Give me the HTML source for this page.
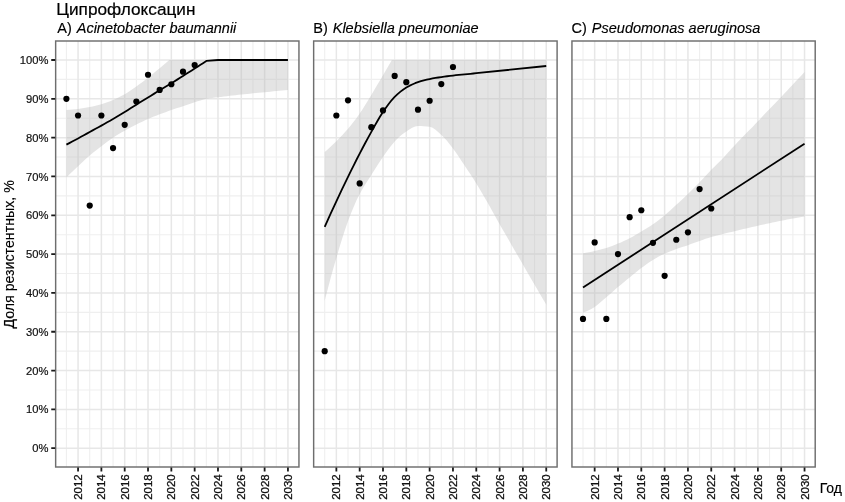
<!DOCTYPE html>
<html lang="ru">
<head>
<meta charset="utf-8">
<title>Ципрофлоксацин</title>
<style>
html,body{margin:0;padding:0;background:#fff;}
body{width:845px;height:502px;overflow:hidden;}
svg{display:block;}
text{font-family:"Liberation Sans",Arial,Helvetica,sans-serif;}
.t{font-size:17.2px;fill:#000;stroke:#000;stroke-width:0.2px;}
.s{font-size:14.5px;fill:#000;stroke:#000;stroke-width:0.15px;}
.l{font-size:14.2px;fill:#000;stroke:#000;stroke-width:0.15px;}
.a{font-size:11.2px;fill:#111111;stroke:#111111;stroke-width:0.2px;}
.x{font-size:11.45px;stroke-width:0.3px;}
.i{font-style:italic;}
.gM{stroke:#e7e7e7;stroke-width:1.5;fill:none;}
.gm{stroke:#efefef;stroke-width:1.1;fill:none;}
.rb{fill:#bbbbbb;fill-opacity:0.4;stroke:none;}
.ln{fill:none;stroke:#000;stroke-width:1.8;stroke-linejoin:round;stroke-linecap:butt;}
.pt{fill:#000;}
.bd{fill:none;stroke:#6e6e6e;stroke-width:1.45;}
.tk{stroke:#1a1a1a;stroke-width:1.8;fill:none;}
</style>
</head>
<body>
<svg width="845" height="502" viewBox="0 0 845 502">
<rect x="0" y="0" width="845" height="502" fill="#ffffff"/>
<text class="t" x="56.3" y="14.8">Ципрофлоксацин</text>
<g>
<text class="s" x="57.3" y="32.6">A)&#160;<tspan class="i" dx="0.9">Acinetobacter baumannii</tspan></text>
<clipPath id="c0"><rect x="55.65" y="41" width="243.3" height="426"/></clipPath>
<g clip-path="url(#c0)">
<path class="gm" d="M55.65 428.79H298.95M55.65 389.97H298.95M55.65 351.15H298.95M55.65 312.33H298.95M55.65 273.51H298.95M55.65 234.69H298.95M55.65 195.87H298.95M55.65 157.05H298.95M55.65 118.23H298.95M55.65 79.41H298.95M66.4 41V467M89.72 41V467M113.04 41V467M136.36 41V467M159.68 41V467M183 41V467M206.32 41V467M229.64 41V467M252.96 41V467M276.28 41V467"/>
<path class="gM" d="M55.65 448.2H298.95M55.65 409.38H298.95M55.65 370.56H298.95M55.65 331.74H298.95M55.65 292.92H298.95M55.65 254.1H298.95M55.65 215.28H298.95M55.65 176.46H298.95M55.65 137.64H298.95M55.65 98.82H298.95M55.65 60H298.95M78.06 41V467M101.38 41V467M124.7 41V467M148.02 41V467M171.34 41V467M194.66 41V467M217.98 41V467M241.3 41V467M264.62 41V467M287.94 41V467"/>
<polygon class="rb" points="66.4,110.08 69.32,109.85 72.23,109.58 75.15,109.26 78.06,108.91 80.98,108.51 83.89,108.04 86.81,107.53 89.72,106.97 92.64,106.38 95.55,105.75 98.47,105.04 101.38,104.25 104.3,103.35 107.21,102.32 110.12,101.19 113.04,99.98 115.96,98.69 118.87,97.29 121.78,95.78 124.7,94.16 127.62,92.39 130.53,90.46 133.44,88.44 136.36,86.4 139.28,84.35 142.19,82.25 145.11,80.09 148.02,77.86 150.94,75.52 153.85,73.09 156.76,70.62 159.68,68.15 162.6,65.71 165.51,63.25 168.43,60.79 169.36,60 287.94,60 287.94,89.89 285.02,90.18 282.11,90.47 279.2,90.76 276.28,91.06 273.37,91.35 270.45,91.64 267.53,91.93 264.62,92.22 261.71,92.51 258.79,92.79 255.88,93.08 252.96,93.36 250.05,93.65 247.13,93.94 244.22,94.24 241.3,94.55 238.39,94.87 235.47,95.19 232.56,95.52 229.64,95.86 226.72,96.2 223.81,96.55 220.9,96.91 217.98,97.27 215.06,97.61 212.15,97.96 209.24,98.34 206.32,98.82 203.41,99.5 200.49,100.38 197.58,101.35 194.66,102.31 191.75,103.26 188.83,104.23 185.92,105.22 183,106.2 180.09,107.16 177.17,108.11 174.25,109.08 171.34,110.08 168.43,111.11 165.51,112.16 162.6,113.24 159.68,114.35 156.76,115.47 153.85,116.61 150.94,117.78 148.02,119.01 145.11,120.29 142.19,121.63 139.28,123.01 136.36,124.44 133.44,125.92 130.53,127.45 127.62,129.03 124.7,130.65 121.78,132.31 118.87,134.01 115.96,135.78 113.04,137.64 110.12,139.64 107.21,141.76 104.3,143.95 101.38,146.18 98.47,148.42 95.55,150.7 92.64,153.05 89.72,155.5 86.81,158.1 83.89,160.83 80.98,163.61 78.06,166.37 75.15,169.08 72.23,171.8 69.32,174.52 66.4,177.24"/>
<polyline class="ln" points="66.4,144.63 69.32,143.09 72.23,141.55 75.15,139.99 78.06,138.42 80.98,136.83 83.89,135.23 86.81,133.62 89.72,132.01 92.64,130.41 95.55,128.82 98.47,127.22 101.38,125.61 104.3,123.98 107.21,122.34 110.12,120.69 113.04,119.01 115.96,117.3 118.87,115.56 121.78,113.8 124.7,112.02 127.62,110.2 130.53,108.34 133.44,106.48 136.36,104.64 139.28,102.83 142.19,101.04 145.11,99.25 148.02,97.46 150.94,95.66 153.85,93.86 156.76,92.06 159.68,90.28 162.6,88.53 165.51,86.8 168.43,85.06 171.34,83.29 174.25,81.48 177.17,79.63 180.09,77.77 183,75.92 185.92,74.08 188.83,72.24 191.75,70.4 194.66,68.54 197.58,66.67 200.49,64.78 203.41,62.88 206.32,60.97 217.98,60 287.94,60"/>
<circle class="pt" cx="66.4" cy="98.82" r="3.1"/>
<circle class="pt" cx="78.06" cy="115.51" r="3.1"/>
<circle class="pt" cx="89.72" cy="205.57" r="3.1"/>
<circle class="pt" cx="101.38" cy="115.51" r="3.1"/>
<circle class="pt" cx="113.04" cy="148.12" r="3.1"/>
<circle class="pt" cx="124.7" cy="124.83" r="3.1"/>
<circle class="pt" cx="136.36" cy="101.54" r="3.1"/>
<circle class="pt" cx="148.02" cy="74.75" r="3.1"/>
<circle class="pt" cx="159.68" cy="89.89" r="3.1"/>
<circle class="pt" cx="171.34" cy="84.26" r="3.1"/>
<circle class="pt" cx="183" cy="71.65" r="3.1"/>
<circle class="pt" cx="194.66" cy="65.05" r="3.1"/>
</g>
<rect class="bd" x="55.65" y="41" width="243.3" height="426"/>
<path class="tk" d="M78.06 467.5v3.9M101.38 467.5v3.9M124.7 467.5v3.9M148.02 467.5v3.9M171.34 467.5v3.9M194.66 467.5v3.9M217.98 467.5v3.9M241.3 467.5v3.9M264.62 467.5v3.9M287.94 467.5v3.9"/>
<text class="a x" text-anchor="end" transform="translate(82.11 474.3) rotate(-90)">2012</text>
<text class="a x" text-anchor="end" transform="translate(105.43 474.3) rotate(-90)">2014</text>
<text class="a x" text-anchor="end" transform="translate(128.75 474.3) rotate(-90)">2016</text>
<text class="a x" text-anchor="end" transform="translate(152.07 474.3) rotate(-90)">2018</text>
<text class="a x" text-anchor="end" transform="translate(175.39 474.3) rotate(-90)">2020</text>
<text class="a x" text-anchor="end" transform="translate(198.71 474.3) rotate(-90)">2022</text>
<text class="a x" text-anchor="end" transform="translate(222.03 474.3) rotate(-90)">2024</text>
<text class="a x" text-anchor="end" transform="translate(245.35 474.3) rotate(-90)">2026</text>
<text class="a x" text-anchor="end" transform="translate(268.67 474.3) rotate(-90)">2028</text>
<text class="a x" text-anchor="end" transform="translate(291.99 474.3) rotate(-90)">2030</text>
<path class="tk" d="M55.15 448.2h-3.9M55.15 409.38h-3.9M55.15 370.56h-3.9M55.15 331.74h-3.9M55.15 292.92h-3.9M55.15 254.1h-3.9M55.15 215.28h-3.9M55.15 176.46h-3.9M55.15 137.64h-3.9M55.15 98.82h-3.9M55.15 60h-3.9"/>
<text class="a" text-anchor="end" x="48.4" y="452.3">0%</text>
<text class="a" text-anchor="end" x="48.4" y="413.48">10%</text>
<text class="a" text-anchor="end" x="48.4" y="374.66">20%</text>
<text class="a" text-anchor="end" x="48.4" y="335.84">30%</text>
<text class="a" text-anchor="end" x="48.4" y="297.02">40%</text>
<text class="a" text-anchor="end" x="48.4" y="258.2">50%</text>
<text class="a" text-anchor="end" x="48.4" y="219.38">60%</text>
<text class="a" text-anchor="end" x="48.4" y="180.56">70%</text>
<text class="a" text-anchor="end" x="48.4" y="141.74">80%</text>
<text class="a" text-anchor="end" x="48.4" y="102.92">90%</text>
<text class="a" text-anchor="end" x="48.4" y="64.1">100%</text>
</g>
<g>
<text class="s" x="313.3" y="32.6">B)&#160;<tspan class="i" dx="0.9">Klebsiella pneumoniae</tspan></text>
<clipPath id="c1"><rect x="313.65" y="41" width="243.45" height="426"/></clipPath>
<g clip-path="url(#c1)">
<path class="gm" d="M313.65 428.79H557.1M313.65 389.97H557.1M313.65 351.15H557.1M313.65 312.33H557.1M313.65 273.51H557.1M313.65 234.69H557.1M313.65 195.87H557.1M313.65 157.05H557.1M313.65 118.23H557.1M313.65 79.41H557.1M324.7 41V467M348.02 41V467M371.34 41V467M394.66 41V467M417.98 41V467M441.3 41V467M464.62 41V467M487.94 41V467M511.26 41V467M534.58 41V467"/>
<path class="gM" d="M313.65 448.2H557.1M313.65 409.38H557.1M313.65 370.56H557.1M313.65 331.74H557.1M313.65 292.92H557.1M313.65 254.1H557.1M313.65 215.28H557.1M313.65 176.46H557.1M313.65 137.64H557.1M313.65 98.82H557.1M313.65 60H557.1M336.36 41V467M359.68 41V467M383 41V467M406.32 41V467M429.64 41V467M452.96 41V467M476.28 41V467M499.6 41V467M522.92 41V467M546.24 41V467"/>
<polygon class="rb" points="324.7,152 327.62,149.43 330.53,146.76 333.44,143.99 336.36,141.13 339.27,138.2 342.19,135.18 345.11,132.03 348.02,128.71 350.94,125.21 353.85,121.52 356.76,117.65 359.68,113.57 362.59,109.21 365.51,104.57 368.43,99.77 371.34,94.94 374.25,90.08 377.17,85.12 380.08,80.13 383,75.14 385.91,70.17 388.83,65.19 391.75,60.2 391.86,60 546.24,60 546.24,304.57 543.33,299.65 540.41,294.72 537.5,289.75 534.58,284.77 531.66,279.75 528.75,274.7 525.84,269.64 522.92,264.58 520,259.53 517.09,254.49 514.17,249.44 511.26,244.39 508.35,239.37 505.43,234.35 502.51,229.31 499.6,224.21 496.69,219 493.77,213.7 490.86,208.42 487.94,203.25 485.02,198.17 482.11,193.15 479.19,188.23 476.28,183.45 473.37,178.84 470.45,174.35 467.53,169.96 464.62,165.59 461.7,161.18 458.79,156.76 455.88,152.49 452.96,148.51 450.04,144.74 447.13,141.1 444.21,137.77 441.3,134.92 438.38,132.28 435.47,129.75 432.56,127.77 429.64,126.77 426.73,126.45 423.81,126.2 420.89,126.05 417.98,125.99 415.06,126.51 412.15,127.83 409.24,129.59 406.32,131.43 403.4,133.43 400.49,135.83 397.57,138.56 394.66,141.52 391.75,144.89 388.83,148.74 385.91,152.86 383,157.05 380.08,161.31 377.17,165.75 374.25,170.31 371.34,174.91 368.43,179.42 365.51,183.92 362.59,188.67 359.68,193.93 356.76,199.86 353.85,206.4 350.94,213.51 348.02,221.1 345.11,229.41 342.19,238.51 339.27,248.12 336.36,257.98 333.44,268.08 330.53,278.58 327.62,289.45 324.7,300.68"/>
<polyline class="ln" points="324.7,226.93 327.62,220.41 330.53,213.97 333.44,207.6 336.36,201.3 339.27,195.08 342.19,188.93 345.11,182.85 348.02,176.85 350.94,170.91 353.85,165.03 356.76,159.24 359.68,153.56 362.59,147.97 365.51,142.47 368.43,137.07 371.34,131.82 374.25,126.61 377.17,121.47 380.08,116.55 383,112.02 385.91,107.78 388.83,103.75 391.75,100.06 394.66,96.88 397.57,94.12 400.49,91.64 403.4,89.44 406.32,87.56 409.24,85.93 412.15,84.48 415.06,83.21 417.98,82.13 420.89,81.2 423.81,80.38 426.73,79.66 429.64,79.02 432.56,78.46 435.47,77.97 438.38,77.51 441.3,77.08 444.21,76.66 447.13,76.26 450.04,75.88 452.96,75.53 455.88,75.21 458.79,74.92 461.7,74.65 464.62,74.36 467.53,74.07 470.45,73.78 473.37,73.49 476.28,73.2 546.24,66.02"/>
<circle class="pt" cx="324.7" cy="351.15" r="3.1"/>
<circle class="pt" cx="336.36" cy="115.51" r="3.1"/>
<circle class="pt" cx="348.02" cy="100.37" r="3.1"/>
<circle class="pt" cx="359.68" cy="183.45" r="3.1"/>
<circle class="pt" cx="371.34" cy="127.16" r="3.1"/>
<circle class="pt" cx="383" cy="110.47" r="3.1"/>
<circle class="pt" cx="394.66" cy="75.92" r="3.1"/>
<circle class="pt" cx="406.32" cy="82.13" r="3.1"/>
<circle class="pt" cx="417.98" cy="109.69" r="3.1"/>
<circle class="pt" cx="429.64" cy="100.76" r="3.1"/>
<circle class="pt" cx="441.3" cy="84.07" r="3.1"/>
<circle class="pt" cx="452.96" cy="66.99" r="3.1"/>
</g>
<rect class="bd" x="313.65" y="41" width="243.45" height="426"/>
<path class="tk" d="M336.36 467.5v3.9M359.68 467.5v3.9M383 467.5v3.9M406.32 467.5v3.9M429.64 467.5v3.9M452.96 467.5v3.9M476.28 467.5v3.9M499.6 467.5v3.9M522.92 467.5v3.9M546.24 467.5v3.9"/>
<text class="a x" text-anchor="end" transform="translate(340.41 474.3) rotate(-90)">2012</text>
<text class="a x" text-anchor="end" transform="translate(363.73 474.3) rotate(-90)">2014</text>
<text class="a x" text-anchor="end" transform="translate(387.05 474.3) rotate(-90)">2016</text>
<text class="a x" text-anchor="end" transform="translate(410.37 474.3) rotate(-90)">2018</text>
<text class="a x" text-anchor="end" transform="translate(433.69 474.3) rotate(-90)">2020</text>
<text class="a x" text-anchor="end" transform="translate(457.01 474.3) rotate(-90)">2022</text>
<text class="a x" text-anchor="end" transform="translate(480.33 474.3) rotate(-90)">2024</text>
<text class="a x" text-anchor="end" transform="translate(503.65 474.3) rotate(-90)">2026</text>
<text class="a x" text-anchor="end" transform="translate(526.97 474.3) rotate(-90)">2028</text>
<text class="a x" text-anchor="end" transform="translate(550.29 474.3) rotate(-90)">2030</text>
</g>
<g>
<text class="s" x="571.6" y="32.6">C)&#160;<tspan class="i" dx="0.9">Pseudomonas aeruginosa</tspan></text>
<clipPath id="c2"><rect x="571.95" y="41" width="243.25" height="426"/></clipPath>
<g clip-path="url(#c2)">
<path class="gm" d="M571.95 428.79H815.2M571.95 389.97H815.2M571.95 351.15H815.2M571.95 312.33H815.2M571.95 273.51H815.2M571.95 234.69H815.2M571.95 195.87H815.2M571.95 157.05H815.2M571.95 118.23H815.2M571.95 79.41H815.2M583 41V467M606.32 41V467M629.64 41V467M652.96 41V467M676.28 41V467M699.6 41V467M722.92 41V467M746.24 41V467M769.56 41V467M792.88 41V467"/>
<path class="gM" d="M571.95 448.2H815.2M571.95 409.38H815.2M571.95 370.56H815.2M571.95 331.74H815.2M571.95 292.92H815.2M571.95 254.1H815.2M571.95 215.28H815.2M571.95 176.46H815.2M571.95 137.64H815.2M571.95 98.82H815.2M571.95 60H815.2M594.66 41V467M617.98 41V467M641.3 41V467M664.62 41V467M687.94 41V467M711.26 41V467M734.58 41V467M757.9 41V467M781.22 41V467M804.54 41V467"/>
<polygon class="rb" points="583,253.32 585.91,252.81 588.83,252.25 591.75,251.64 594.66,250.99 597.58,250.3 600.49,249.56 603.4,248.75 606.32,247.89 609.24,246.94 612.15,245.9 615.07,244.79 617.98,243.62 620.89,242.38 623.81,241.05 626.73,239.65 629.64,238.18 632.55,236.64 635.47,235.01 638.38,233.32 641.3,231.58 644.22,229.83 647.13,228.04 650.04,226.17 652.96,224.21 655.88,222.13 658.79,219.94 661.71,217.65 664.62,215.28 667.53,212.79 670.45,210.17 673.37,207.49 676.28,204.8 679.2,202.13 682.11,199.44 685.02,196.71 687.94,193.93 690.86,191.09 693.77,188.2 696.68,185.27 699.6,182.28 702.51,179.21 705.43,176.07 708.35,172.93 711.26,169.86 714.17,166.92 717.09,164.06 720,161.19 722.92,158.21 725.84,155.08 728.75,151.84 731.66,148.58 734.58,145.4 737.5,142.34 740.41,139.34 743.33,136.36 746.24,133.37 749.15,130.37 752.07,127.38 754.99,124.37 757.9,121.34 760.82,118.25 763.73,115.12 766.64,112 769.56,108.91 772.48,105.89 775.39,102.9 778.31,99.91 781.22,96.88 784.13,93.8 787.05,90.69 789.97,87.57 792.88,84.46 795.8,81.35 798.71,78.25 801.62,75.14 804.54,72.03 804.54,216.44 801.62,216.94 798.71,217.44 795.8,217.96 792.88,218.49 789.97,219.03 787.05,219.58 784.13,220.14 781.22,220.71 778.31,221.3 775.39,221.91 772.48,222.53 769.56,223.16 766.64,223.8 763.73,224.45 760.82,225.11 757.9,225.76 754.99,226.42 752.07,227.08 749.15,227.75 746.24,228.43 743.33,229.11 740.41,229.8 737.5,230.5 734.58,231.2 731.66,231.89 728.75,232.58 725.84,233.27 722.92,233.97 720,234.68 717.09,235.42 714.17,236.2 711.26,237.02 708.35,237.91 705.43,238.87 702.51,239.88 699.6,240.9 696.68,241.95 693.77,243.04 690.86,244.12 687.94,245.17 685.02,246.15 682.11,247.09 679.2,248.04 676.28,249.05 673.37,250.13 670.45,251.25 667.53,252.43 664.62,253.71 661.71,255.1 658.79,256.6 655.88,258.21 652.96,259.92 650.04,261.78 647.13,263.79 644.22,265.91 641.3,268.08 638.38,270.31 635.47,272.63 632.55,275.01 629.64,277.39 626.73,279.78 623.81,282.2 620.89,284.63 617.98,287.1 615.07,289.6 612.15,292.14 609.24,294.69 606.32,297.19 603.4,299.76 600.49,302.37 597.58,304.82 594.66,306.9 591.75,308.65 588.83,310.23 585.91,311.6 583,312.72"/>
<polyline class="ln" points="583,287.49 804.54,143.66"/>
<circle class="pt" cx="583" cy="318.93" r="3.1"/>
<circle class="pt" cx="594.66" cy="242.45" r="3.1"/>
<circle class="pt" cx="606.32" cy="318.93" r="3.1"/>
<circle class="pt" cx="617.98" cy="254.1" r="3.1"/>
<circle class="pt" cx="629.64" cy="217.22" r="3.1"/>
<circle class="pt" cx="641.3" cy="210.23" r="3.1"/>
<circle class="pt" cx="652.96" cy="242.84" r="3.1"/>
<circle class="pt" cx="664.62" cy="275.84" r="3.1"/>
<circle class="pt" cx="676.28" cy="239.74" r="3.1"/>
<circle class="pt" cx="687.94" cy="232.36" r="3.1"/>
<circle class="pt" cx="699.6" cy="189.08" r="3.1"/>
<circle class="pt" cx="711.26" cy="208.49" r="3.1"/>
</g>
<rect class="bd" x="571.95" y="41" width="243.25" height="426"/>
<path class="tk" d="M594.66 467.5v3.9M617.98 467.5v3.9M641.3 467.5v3.9M664.62 467.5v3.9M687.94 467.5v3.9M711.26 467.5v3.9M734.58 467.5v3.9M757.9 467.5v3.9M781.22 467.5v3.9M804.54 467.5v3.9"/>
<text class="a x" text-anchor="end" transform="translate(598.71 474.3) rotate(-90)">2012</text>
<text class="a x" text-anchor="end" transform="translate(622.03 474.3) rotate(-90)">2014</text>
<text class="a x" text-anchor="end" transform="translate(645.35 474.3) rotate(-90)">2016</text>
<text class="a x" text-anchor="end" transform="translate(668.67 474.3) rotate(-90)">2018</text>
<text class="a x" text-anchor="end" transform="translate(691.99 474.3) rotate(-90)">2020</text>
<text class="a x" text-anchor="end" transform="translate(715.31 474.3) rotate(-90)">2022</text>
<text class="a x" text-anchor="end" transform="translate(738.63 474.3) rotate(-90)">2024</text>
<text class="a x" text-anchor="end" transform="translate(761.95 474.3) rotate(-90)">2026</text>
<text class="a x" text-anchor="end" transform="translate(785.27 474.3) rotate(-90)">2028</text>
<text class="a x" text-anchor="end" transform="translate(808.59 474.3) rotate(-90)">2030</text>
</g>
<text class="l" text-anchor="middle" transform="translate(13.6 254.4) rotate(-90)">Доля резистентных, %</text>
<text class="l" style="font-size:14px" x="819.7" y="493.4">Год</text>
</svg>
</body>
</html>
